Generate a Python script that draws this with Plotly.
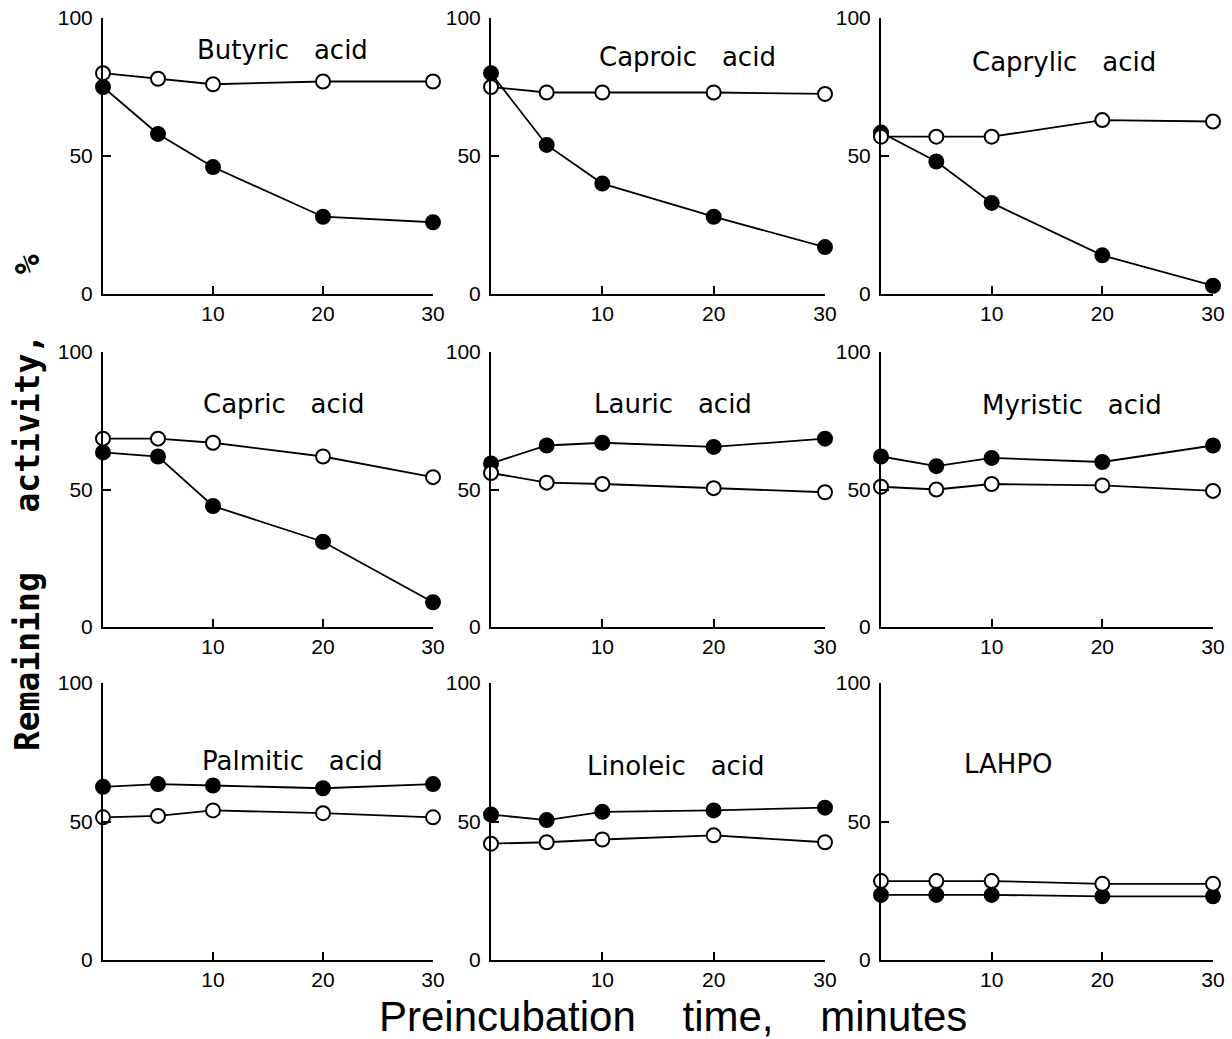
import plotly.graph_objects as go

# figure fills the whole 1232x1039 window (page body margin removed below)
OFF = 0
W, H = 1232, 1039

# ---- data ----
t = [0, 5, 10, 20, 30]
panels = ["Butyric acid", "Caproic acid", "Caprylic acid",
          "Capric acid", "Lauric acid", "Myristic acid",
          "Palmitic acid", "Linoleic acid", "LAHPO"]
butyric_filled = [75, 58, 46, 28, 26]
butyric_open = [80, 78, 76, 77, 77]
caproic_filled = [80, 54, 40, 28, 17]
caproic_open = [75, 73, 73, 73, 72.5]
caprylic_filled = [58.5, 48, 33, 14, 3]
caprylic_open = [57, 57, 57, 63, 62.5]
capric_filled = [63.5, 62, 44, 31, 9]
capric_open = [68.5, 68.5, 67, 62, 54.5]
lauric_filled = [59.5, 66, 67, 65.5, 68.5]
lauric_open = [56, 52.5, 52, 50.5, 49]
myristic_filled = [62, 58.5, 61.5, 60, 66]
myristic_open = [51, 50, 52, 51.5, 49.5]
palmitic_filled = [62.5, 63.5, 63, 62, 63.5]
palmitic_open = [51.5, 52, 54, 53, 51.5]
linoleic_filled = [52.5, 50.5, 53.5, 54, 55]
linoleic_open = [42, 42.5, 43.5, 45, 42.5]
lahpo_filled = [23.5, 23.5, 23.5, 23, 23]
lahpo_open = [28.5, 28.5, 28.5, 27.5, 27.5]

filled = [butyric_filled, caproic_filled, caprylic_filled,
          capric_filled, lauric_filled, myristic_filled,
          palmitic_filled, linoleic_filled, lahpo_filled]
opened = [butyric_open, caproic_open, caprylic_open,
          capric_open, lauric_open, myristic_open,
          palmitic_open, linoleic_open, lahpo_open]

x_ticks = [10, 20, 30]
y_ticks = [0, 50, 100]

# ---- layout geometry (window pixels) ----
cols = [(103, 433), (491, 825), (881, 1213)]
rows = [(18, 294), (352, 627), (683, 960)]
title_pos = [(282, 50), (687, 57), (1064, 62),
             (284, 404), (673, 404), (1072, 405),
             (292, 761), (676, 766), (1008, 764)]

FONT = "DejaVu Sans"
TICKFONT = "Liberation Sans"
YTITLEFONT = "DejaVu Sans Mono"

def px(x):
    return (x - OFF) / W

def py(y):
    return 1 - (y - OFF) / H

fig = go.Figure()
layout = dict(
    width=W, height=H, autosize=False,
    margin=dict(l=0, r=0, t=0, b=0, pad=0, autoexpand=False),
    paper_bgcolor="white", plot_bgcolor="white", showlegend=False,
    font=dict(family=FONT, color="black"),
)
annotations = []

for i in range(9):
    r, c = divmod(i, 3)
    n = i + 1
    xa = "xaxis" if n == 1 else f"xaxis{n}"
    ya = "yaxis" if n == 1 else f"yaxis{n}"
    xref = "x" if n == 1 else f"x{n}"
    yref = "y" if n == 1 else f"y{n}"
    layout[xa] = dict(
        domain=[px(cols[c][0]), px(cols[c][1])], range=[0, 30],
        anchor=yref, showgrid=False, zeroline=False, automargin=False,
        showline=True, linecolor="black", linewidth=2,
        ticks="inside", ticklen=8, tickwidth=2, tickcolor="black",
        tickvals=x_ticks, ticktext=[str(v) for v in x_ticks],
        tickfont=dict(size=21, family=TICKFONT, color="black"),
        ticklabeloverflow="allow",
    )
    layout[ya] = dict(
        domain=[py(rows[r][1]), py(rows[r][0])], range=[0, 100],
        anchor=xref, showgrid=False, zeroline=False, automargin=False,
        showline=True, linecolor="black", linewidth=2,
        ticks="inside", ticklen=8, tickwidth=2, tickcolor="black",
        tickvals=y_ticks, ticktext=[str(v) for v in y_ticks],
        tickfont=dict(size=21, family=TICKFONT, color="black"),
        ticklabelstandoff=4, ticklabeloverflow="allow",
    )
    fig.add_trace(go.Scatter(
        x=t, y=filled[i], xaxis=xref, yaxis=yref, mode="lines+markers",
        line=dict(color="black", width=1.8), cliponaxis=False,
        marker=dict(symbol="circle", size=14, color="black",
                    line=dict(color="black", width=2)),
    ))
    fig.add_trace(go.Scatter(
        x=t, y=opened[i], xaxis=xref, yaxis=yref, mode="lines+markers",
        line=dict(color="black", width=1.8), cliponaxis=False,
        marker=dict(symbol="circle", size=14, color="white",
                    line=dict(color="black", width=2)),
    ))
    tx, ty = title_pos[i]
    annotations.append(dict(
        x=px(tx), y=py(ty), xref="paper", yref="paper", showarrow=False,
        text=panels[i].replace(" ", "\u00a0\u00a0\u00a0"),
        font=dict(size=26, family=FONT, color="black"),
        xanchor="center", yanchor="middle",
    ))

annotations.append(dict(
    x=px(27), y=py(503), xref="paper", yref="paper", showarrow=False,
    text="<b>Remaining\u00a0\u00a0\u00a0activity,\u00a0\u00a0\u00a0%</b>",
    textangle=-90,
    font=dict(size=33, family=YTITLEFONT, color="black"),
    xanchor="center", yanchor="middle",
))
annotations.append(dict(
    x=px(673), y=py(1016), xref="paper", yref="paper", showarrow=False,
    text="Preincubation\u00a0\u00a0\u00a0\u00a0time,\u00a0\u00a0\u00a0\u00a0minutes",
    font=dict(size=42, family=TICKFONT, color="black"),
    xanchor="center", yanchor="middle",
))
layout["annotations"] = annotations
fig.update_layout(**layout)
fig.write_html(
    "out.html",
    config={"displayModeBar": False, "staticPlot": True},
    post_script="document.body.style.margin='0px';"
                "document.body.style.overflow='hidden';",
)
